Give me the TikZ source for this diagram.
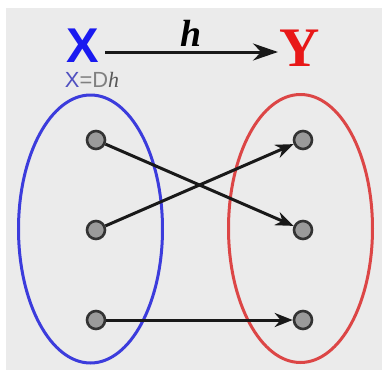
\documentclass[tikz,border=0pt]{standalone}
\usepackage{fontspec}
\setmainfont{Liberation Serif}
\setsansfont{Liberation Sans}
\usetikzlibrary{arrows.meta}
\definecolor{bg}{HTML}{EBEBEB}
\definecolor{setblue}{HTML}{3C3CDC}
\definecolor{setred}{HTML}{DC4646}
\definecolor{xblue}{HTML}{1A1AF0}
\definecolor{yred}{HTML}{E81818}
\definecolor{dotfill}{HTML}{9A9A9A}
\definecolor{dotline}{HTML}{333333}
\begin{document}
\begin{tikzpicture}[x=1bp,y=-1bp,
  elem/.style={circle,draw=dotline,fill=dotfill,line width=2.6bp,minimum size=18bp,inner sep=0pt},
  mapto/.style={draw=black!90,line width=3bp,-{Stealth[length=18bp,width=14bp]}},
  setshape/.style={draw,line width=3bp}]
\useasboundingbox (0,0) rectangle (382,370);
\fill[bg] (6,8) rectangle (382,370);
% sets
\draw[setshape,setblue] (90.5,229) ellipse [x radius=72,y radius=134];
\draw[setshape,setred] (300.5,228.5) ellipse [x radius=72,y radius=134];
% labels
\node[font=\sffamily\bfseries\fontsize{49}{49}\selectfont,text=xblue,inner sep=0pt] (X) at (83,46) {X};
\node[font=\rmfamily\bfseries\fontsize{56}{56}\selectfont,text=yred,inner sep=0pt] (Y) at (300,48) {Y};
\node[font=\sffamily\fontsize{22}{22}\selectfont,inner sep=0pt] (dom) at (92,80) {\textcolor{setblue!70!gray}{X}\textcolor{gray}{=D}\textcolor{black!65}{\rmfamily\itshape h}};
\coordinate (hs) at (105,52);
\coordinate (he) at (278,52);
\draw[mapto,-{Stealth[length=25bp,width=17bp]}] (hs) -- node[above=4bp,font=\rmfamily\bfseries\itshape\fontsize{38}{38}\selectfont,inner sep=0pt] (hl) {h} (he);
% elements
\node[elem] (a1) at (96,140) {};
\node[elem] (a2) at (96,230) {};
\node[elem] (a3) at (96,320) {};
\node[elem] (b1) at (303,140) {};
\node[elem] (b2) at (303,230) {};
\node[elem] (b3) at (303,320) {};
% mappings
\draw[mapto] (a1) -- (b2);
\draw[mapto] (a2) -- (b1);
\draw[mapto] (a3) -- (b3);
\end{tikzpicture}
\end{document}
